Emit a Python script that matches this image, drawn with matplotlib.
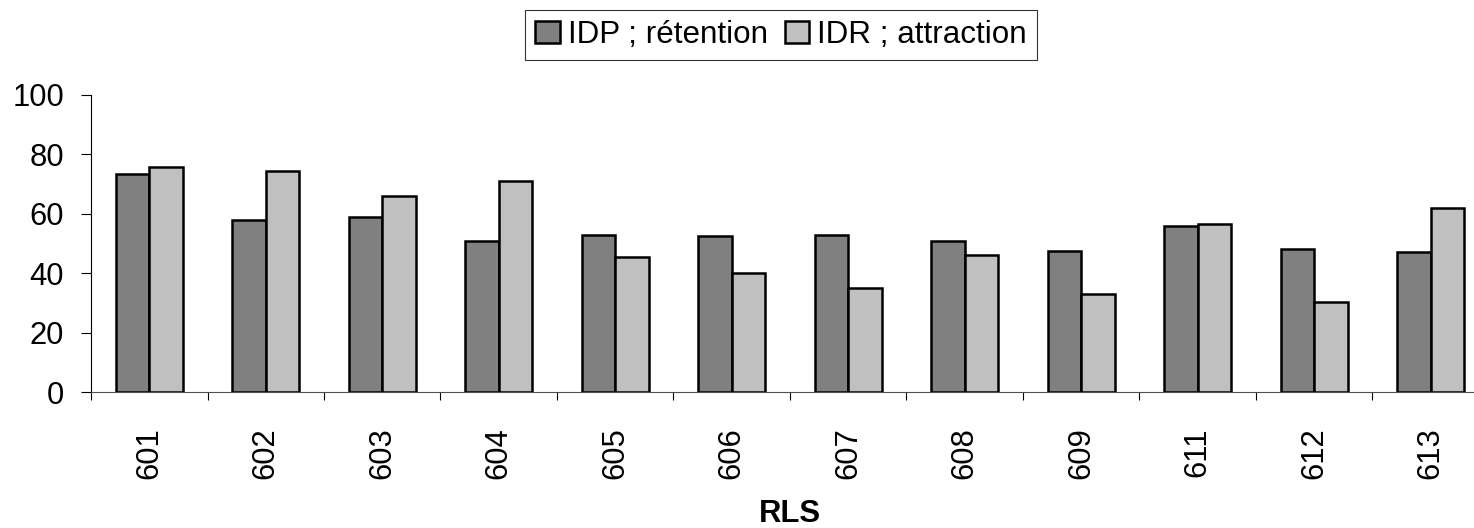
import matplotlib
matplotlib.use("Agg")
import matplotlib.pyplot as plt
import numpy as np

categories = ["601", "602", "603", "604", "605", "606", "607", "608", "609", "611", "612", "613"]
idp_retention = [73.4, 57.9, 58.9, 50.8, 52.7, 52.6, 52.8, 50.8, 47.5, 56.0, 48.0, 47.2]
idr_attraction = [75.6, 74.5, 65.9, 71.0, 45.5, 40.1, 35.2, 46.1, 32.9, 56.7, 30.4, 61.9]
series_names = ["IDP ; rétention", "IDR ; attraction"]
y_ticks = [0, 20, 40, 60, 80, 100]
x_title = "RLS"

plt.rcParams['font.family'] = ['Liberation Sans', 'DejaVu Sans']

W, H = 1474, 528
fig = plt.figure(figsize=(W / 100, H / 100), dpi=100)
ax = fig.add_axes([91 / W, 135.7 / H, 1398 / W, 297.6 / H])

x = np.arange(len(categories))
bw = 0.288
ax.bar(x - bw / 2, idp_retention, bw, color="#808080", edgecolor="black", linewidth=1.8,
       label=series_names[0])
ax.bar(x + bw / 2, idr_attraction, bw, color="#C0C0C0", edgecolor="black", linewidth=1.8,
       label=series_names[1])

ax.set_xlim(-0.5, len(categories) - 0.5)
ax.set_ylim(0, 100)
ax.set_yticks(y_ticks)
ax.set_yticklabels([str(v) for v in y_ticks], fontsize=22.3)
ax.tick_params(axis='y', direction='out', length=7.5, width=0.8, pad=12, color='black')

ax.set_xticks(np.arange(-0.5, len(categories) + 0.5, 1.0))
ax.set_xticklabels([])
ax.tick_params(axis='x', which='major', direction='out', length=6, width=0.8, color='black')
ax.set_xticks(x, minor=True)
ax.set_xticklabels(categories, minor=True, rotation=90, fontsize=22.3)
ax.tick_params(axis='x', which='minor', length=0, pad=25)

for s in ['top', 'right']:
    ax.spines[s].set_visible(False)
ax.spines['left'].set_linewidth(0.8)
ax.spines['bottom'].set_linewidth(0.8)
ax.spines['bottom'].set_color('#505050')

fig.text(790 / W, 6.3 / H, x_title, ha='center', va='baseline', fontsize=22.3, fontweight='bold')

leg = fig.legend(loc='center', bbox_to_anchor=(781 / W, 1 - 35 / H), ncol=2, fontsize=22.6,
                 frameon=True, fancybox=False, shadow=False, handlelength=0.78, handleheight=0.72,
                 handletextpad=0.25, columnspacing=0.55, borderpad=0.33, borderaxespad=0)
leg.get_frame().set_edgecolor('black')
leg.get_frame().set_linewidth(0.8)

fig.savefig("out.png", dpi=100)
